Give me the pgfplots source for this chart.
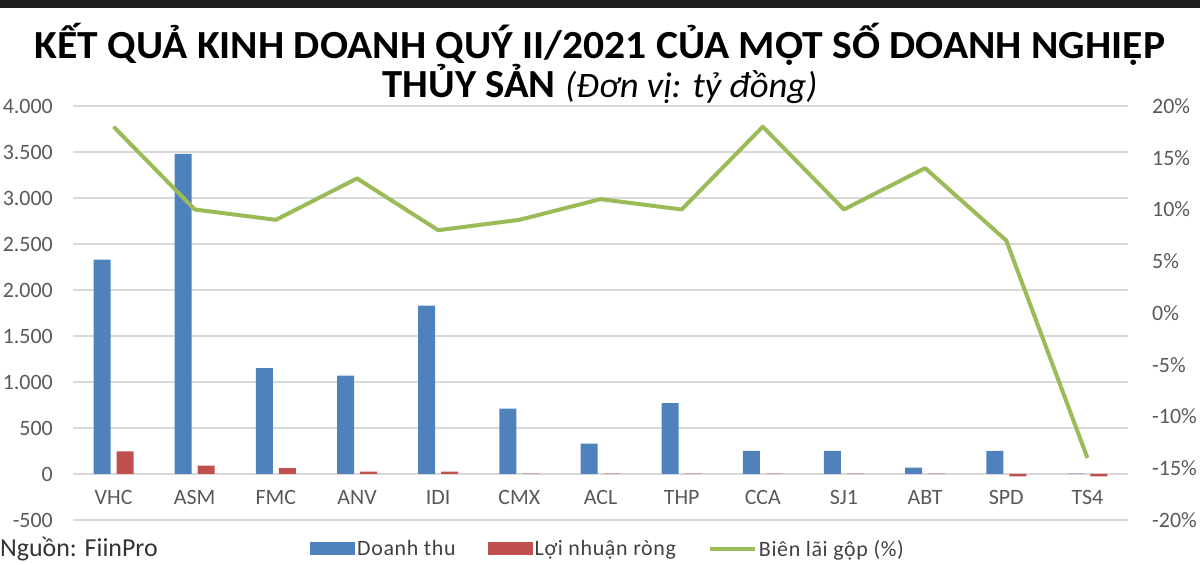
\documentclass[border=0pt]{standalone}
\usepackage{pgfplots}
\pgfplotsset{compat=1.18}
\usepackage{fontspec}
\setmainfont{Carlito}
\newfontfamily\legfont[LetterSpace=3]{Carlito}
\usepackage{graphicx}

\definecolor{cblue}{HTML}{4F81BD}
\definecolor{cred}{HTML}{C0504D}
\definecolor{cgreen}{HTML}{9BBB59}
\definecolor{cgrid}{HTML}{D9D9D9}
\definecolor{ctext}{HTML}{595959}

\pgfplotsset{
  greenlegend/.style={legend image code/.code={\draw[##1] (0bp,0bp) -- (45bp,0bp);}},
  boxlegend/.style={legend image code/.code={\fill[##1] (0bp,-6.5bp) rectangle (45bp,6.5bp);}},
}

\pgfplotstableread{
x dt ln bl
0 2330 245 18
1 3480 90 10
2 1150 65 9
3 1070 25 13
4 1830 25 8
5 710 5 9
6 330 5 11
7 770 5 10
8 250 5 18
9 250 5 10
10 70 5 14
11 250 -25 7
12 5 -25 -14
}\datatable

\begin{document}
\begin{tikzpicture}[x=1bp,y=1bp]
\useasboundingbox (0,0) rectangle (1200,565);
\fill[black!88] (0,557) rectangle (1200,565);
\node[anchor=base, inner sep=0] at (600,506) {\resizebox{1130bp}{\height}{\fontsize{40}{40}\selectfont\bfseries KẾT QUẢ KINH DOANH QUÝ II/2021 CỦA MỘT SỐ DOANH NGHIỆP}};
\node[anchor=base, inner sep=0] at (600,467) {\resizebox{435bp}{\height}{\fontsize{40}{40}\selectfont{\bfseries THỦY SẢN} {\fontsize{36}{36}\selectfont\itshape(Đơn vị: tỷ đồng)}}};
\node[anchor=west, inner sep=0, text=black!80] at (0,16) {\fontsize{26}{26}\selectfont Nguồn: FiinPro};

\begin{axis}[
  at={(73bp,45bp)}, anchor=south west, scale only axis,
  width=1055bp, height=414bp,
  xmin=-0.5, xmax=12.5, ymin=-500, ymax=4000,
  ytick={-500,0,500,1000,1500,2000,2500,3000,3500,4000},
  yticklabels={-500,0,500,1.000,1.500,2.000,2.500,3.000,3.500,4.000},
  xtick={0,...,12},
  xticklabels={VHC,ASM,FMC,ANV,IDI,CMX,ACL,THP,CCA,SJ1,ABT,SPD,TS4},
  axis line style={draw=none},
  major tick length=0pt,
  ymajorgrids, grid style={cgrid, line width=1.6bp},
  yticklabel style={font=\fontsize{22}{22}\selectfont, text=ctext, anchor=east, inner sep=0pt, xshift=-20bp},
  xticklabel style={font=\fontsize{22}{22}\selectfont, text=ctext, anchor=center, inner sep=0pt, yshift=23bp},
  ybar=6bp, bar width=17bp,
  legend columns=3,
  legend style={at={(0.2218,-0.07)}, anchor=west, draw=none, fill=none,
    font=\legfont\fontsize{22}{22}\selectfont, text=black!75,
    /tikz/every even column/.append style={column sep=30bp}},
]
\addplot[fill=cblue, draw=none, boxlegend] table[x=x, y=dt] {\datatable};
\addlegendentry{Doanh thu}
\addplot[fill=cred, draw=none, boxlegend] table[x=x, y=ln] {\datatable};
\addlegendentry{Lợi nhuận ròng}
\addlegendimage{cgreen, line width=4bp, greenlegend}
\addlegendentry{Biên lãi gộp (\%)}
\end{axis}

\begin{axis}[
  at={(73bp,45bp)}, anchor=south west, scale only axis,
  width=1055bp, height=414bp,
  xmin=-0.5, xmax=12.5, ymin=-20, ymax=20,
  axis y line*=right, axis x line=none,
  y axis line style={draw=none},
  major tick length=0pt,
  ytick={-20,-15,-10,-5,0,5,10,15,20},
  yticklabels={-20\%,-15\%,-10\%,-5\%,0\%,5\%,10\%,15\%,20\%},
  yticklabel style={font=\fontsize{22}{22}\selectfont, text=ctext, anchor=west, inner sep=0pt, xshift=24bp},
]
\addplot[cgreen, line width=4bp, line join=round, mark=none] table[x=x, y=bl] {\datatable};
\end{axis}
\end{tikzpicture}
\end{document}
